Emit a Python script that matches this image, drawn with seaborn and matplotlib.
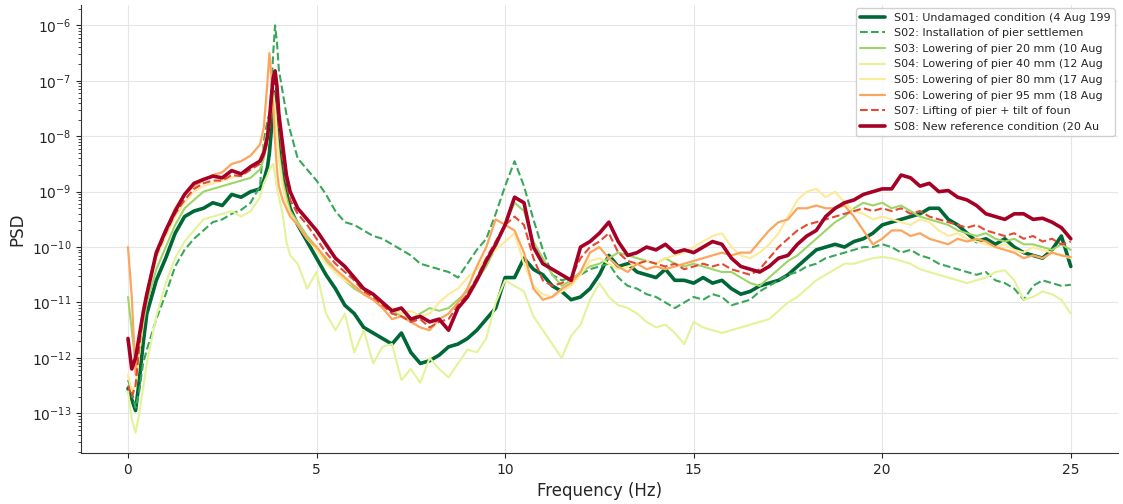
import numpy as np
import pandas as pd
import matplotlib
matplotlib.use("Agg")
import matplotlib.pyplot as plt
from matplotlib.ticker import LogLocator, NullFormatter
import seaborn as sns

# Frequency grid (Hz): dense around the first bending mode, 0.25 Hz elsewhere
freq = [0.0, 0.1, 0.2, 0.3, 0.4, 0.5, 0.75, 1.0, 1.25, 1.5, 1.75, 2.0, 2.25, 2.5, 2.75,
        3.0, 3.25, 3.5, 3.6, 3.7, 3.75, 3.8, 3.85, 3.9, 3.95, 4.0, 4.1, 4.2, 4.3, 4.5,
        4.75, 5.0, 5.25, 5.5, 5.75, 6.0, 6.25, 6.5, 6.75, 7.0, 7.25, 7.5, 7.75, 8.0,
        8.25, 8.5, 8.75, 9.0, 9.25, 9.5, 9.75, 10.0,
        10.25, 10.5, 10.75, 11.0, 11.25, 11.5, 11.75, 12.0, 12.25, 12.5, 12.75, 13.0,
        13.25, 13.5, 13.75, 14.0, 14.25, 14.5, 14.75, 15.0,
        15.25, 15.5, 15.75, 16.0, 16.25, 16.5, 16.75, 17.0, 17.25, 17.5, 17.75, 18.0,
        18.25, 18.5, 18.75, 19.0, 19.25, 19.5, 19.75, 20.0,
        20.25, 20.5, 20.75, 21.0, 21.25, 21.5, 21.75, 22.0, 22.25, 22.5, 22.75, 23.0,
        23.25, 23.5, 23.75, 24.0, 24.25, 24.5, 24.75, 25.0]

# log10 of the power spectral density for each setup
s01 = [-12.55, -12.75, -12.95, -12.4, -11.75, -11.2, -10.6, -10.2, -9.75, -9.45, -9.35, -9.3, -9.2, -9.25, -9.05,
       -9.1, -9.0, -8.95, -8.8, -8.55, -8.3, -7.9, -7.4, -7.2, -7.6, -8.1, -8.6, -9.0, -9.3, -9.6,
       -9.9, -10.2, -10.5, -10.75, -11.05, -11.2, -11.45, -11.55, -11.65, -11.75, -11.55, -11.9, -12.1, -12.05,
       -11.95, -11.8, -11.75, -11.65, -11.5, -11.3, -11.1, -10.55,
       -10.55, -10.2, -10.4, -10.5, -10.7, -10.8, -10.95, -10.9, -10.75, -10.5, -10.15, -10.35,
       -10.3, -10.45, -10.5, -10.55, -10.4, -10.6, -10.6, -10.65,
       -10.55, -10.65, -10.6, -10.75, -10.85, -10.8, -10.7, -10.65, -10.6, -10.5, -10.35, -10.2,
       -10.05, -10.0, -9.95, -10.0, -9.9, -9.85, -9.75, -9.6,
       -9.55, -9.5, -9.45, -9.4, -9.3, -9.3, -9.5, -9.6, -9.75, -9.9, -9.85, -9.95,
       -9.85, -10.0, -10.1, -10.15, -10.2, -10.05, -9.8, -10.35]

s02 = [-12.4, -12.6, -12.9, -12.6, -12.1, -11.85, -11.3, -10.85, -10.35, -10.05, -9.85, -9.7, -9.55, -9.5, -9.4,
       -9.33, -9.2, -8.9, -8.1, -7.7, -7.6, -7.2, -6.5, -6.0, -6.3, -6.8, -7.2, -7.6, -7.9, -8.4,
       -8.6, -8.8, -9.05, -9.35, -9.55, -9.6, -9.7, -9.8, -9.85, -9.95, -10.05, -10.15, -10.3, -10.35,
       -10.4, -10.45, -10.55, -10.3, -10.05, -9.85, -9.4, -8.9,
       -8.45, -8.9, -9.5, -10.05, -10.5, -10.6, -10.55, -10.5, -10.4, -10.35, -10.3, -10.55,
       -10.7, -10.75, -10.85, -10.9, -11.0, -11.1, -11.0, -10.9,
       -10.95, -10.85, -10.9, -11.05, -11.0, -10.95, -10.8, -10.7, -10.6, -10.5, -10.45, -10.35,
       -10.3, -10.2, -10.15, -10.1, -10.05, -10.0, -10.0, -9.95,
       -10.0, -10.1, -10.05, -10.15, -10.2, -10.3, -10.35, -10.4, -10.45, -10.5, -10.45, -10.6,
       -10.65, -10.75, -10.95, -10.7, -10.6, -10.65, -10.7, -10.68]

s03 = [-10.9, -11.5, -12.1, -11.9, -11.4, -11.0, -10.4, -10.0, -9.6, -9.3, -9.15, -9.0, -8.95, -8.9, -8.85,
       -8.8, -8.75, -8.6, -8.4, -8.1, -7.8, -7.5, -7.3, -7.5, -7.9, -8.3, -8.8, -9.1, -9.35, -9.55,
       -9.8, -10.0, -10.25, -10.45, -10.6, -10.75, -10.85, -10.95, -11.05, -11.15, -11.25, -11.3, -11.2, -11.1,
       -11.15, -11.1, -10.95, -10.8, -10.6, -10.35, -10.0, -9.6,
       -9.2, -9.35, -9.9, -10.2, -10.5, -10.7, -10.6, -10.45, -10.35, -10.3, -10.2, -10.1,
       -10.15, -10.2, -10.25, -10.3, -10.2, -10.3, -10.35, -10.3,
       -10.35, -10.4, -10.45, -10.45, -10.55, -10.65, -10.7, -10.55, -10.4, -10.25, -10.15, -10.0,
       -9.85, -9.7, -9.55, -9.45, -9.3, -9.2, -9.25, -9.2,
       -9.3, -9.25, -9.35, -9.45, -9.5, -9.55, -9.6, -9.7, -9.75, -9.8, -9.75, -9.85,
       -9.9, -9.85, -9.95, -9.95, -10.0, -10.05, -9.95, -10.05]

s04 = [-12.6, -13.1, -13.35, -13.0, -12.55, -12.1, -11.25, -10.65, -10.2, -9.9, -9.7, -9.5, -9.45, -9.4, -9.35,
       -9.45, -9.35, -9.1, -8.85, -8.7, -8.6, -8.55, -8.5, -8.7, -8.95, -9.1, -9.4, -9.9, -10.15, -10.3,
       -10.75, -10.45, -11.2, -11.5, -11.2, -11.9, -11.5, -12.1, -11.8, -11.75, -12.4, -12.2, -12.45, -12.0,
       -12.2, -12.35, -12.1, -11.85, -11.9, -11.65, -11.0, -10.6,
       -10.7, -10.8, -11.25, -11.5, -11.75, -12.0, -11.6, -11.4, -10.95, -10.65, -10.9, -11.05,
       -11.1, -11.2, -11.35, -11.45, -11.4, -11.55, -11.75, -11.35,
       -11.45, -11.5, -11.55, -11.5, -11.45, -11.4, -11.35, -11.3, -11.15, -11.0, -10.9, -10.75,
       -10.6, -10.5, -10.4, -10.3, -10.3, -10.25, -10.2, -10.18,
       -10.2, -10.25, -10.3, -10.4, -10.45, -10.5, -10.55, -10.6, -10.65, -10.6, -10.55, -10.45,
       -10.42, -10.6, -10.95, -10.9, -10.8, -10.85, -10.95, -11.2]

s05 = [-12.3, -12.6, -12.5, -11.9, -11.3, -10.9, -10.2, -9.8, -9.45, -9.2, -9.0, -8.9, -8.85, -8.8, -8.75,
       -8.7, -8.6, -8.4, -8.2, -7.9, -7.6, -7.3, -7.2, -7.5, -8.0, -8.4, -8.9, -9.2, -9.4, -9.6,
       -9.85, -10.05, -10.3, -10.45, -10.6, -10.7, -10.85, -10.95, -11.05, -11.1, -11.2, -11.15, -11.25, -11.2,
       -11.0, -10.85, -10.75, -10.55, -10.4, -10.2, -10.05, -9.9,
       -9.75, -10.3, -10.7, -10.85, -10.9, -10.8, -10.7, -10.5, -10.25, -10.2, -10.3, -10.4,
       -10.35, -10.3, -10.25, -10.3, -10.2, -10.15, -10.1, -10.0,
       -9.9, -9.8, -9.75, -10.0, -10.15, -10.2, -10.1, -9.95, -9.75, -9.45, -9.15, -9.0,
       -8.95, -9.1, -9.0, -9.2, -9.35, -9.4, -9.5, -9.45,
       -9.5, -9.55, -9.6, -9.5, -9.55, -9.7, -9.8, -9.75, -9.85, -9.9, -9.95, -10.0,
       -9.95, -10.05, -10.1, -10.0, -10.05, -10.1, -10.15, -10.2]

s06 = [-10.0, -10.9, -12.3, -11.6, -11.1, -10.8, -10.1, -9.7, -9.3, -9.05, -8.9, -8.8, -8.7, -8.65, -8.5,
       -8.45, -8.35, -8.15, -7.85, -7.0, -6.5, -6.9, -7.5, -8.1, -8.6, -8.9, -9.15, -9.3, -9.45, -9.6,
       -9.85, -10.0, -10.2, -10.4, -10.55, -10.7, -10.85, -10.95, -11.1, -11.3, -11.25, -11.35, -11.45, -11.5,
       -11.3, -11.2, -11.0, -10.75, -10.35, -10.0, -9.5, -9.6,
       -9.7, -10.1, -10.75, -10.95, -10.9, -10.75, -10.65, -10.45, -10.1, -10.0, -10.2, -10.35,
       -10.45, -10.3, -10.4, -10.35, -10.4, -10.35, -10.3, -10.25,
       -10.2, -10.15, -10.1, -10.15, -10.1, -10.1, -9.9, -9.7, -9.55, -9.5, -9.3, -9.3,
       -9.25, -9.3, -9.3, -9.25, -9.45, -9.7, -9.95, -9.85,
       -9.7, -9.7, -9.8, -9.75, -9.85, -9.9, -9.95, -9.85, -9.9, -9.85, -9.9, -10.0,
       -10.05, -10.1, -10.2, -10.15, -10.2, -10.1, -10.15, -10.18]

s07 = [-12.5, -12.7, -12.5, -11.8, -11.2, -10.85, -10.15, -9.75, -9.4, -9.15, -8.95, -8.85, -8.8, -8.8, -8.7,
       -8.72, -8.6, -8.5, -8.35, -8.1, -7.8, -7.4, -7.1, -7.0, -7.3, -7.8, -8.4, -8.85, -9.15, -9.4,
       -9.6, -9.85, -10.1, -10.3, -10.45, -10.6, -10.8, -10.9, -11.05, -11.2, -11.25, -11.35, -11.3, -11.45,
       -11.35, -11.3, -11.05, -10.85, -10.55, -10.2, -9.9, -9.6,
       -9.45, -9.6, -10.2, -10.6, -10.7, -10.65, -10.55, -10.2, -10.0, -9.9, -9.75, -10.1,
       -10.25, -10.3, -10.25, -10.3, -10.35, -10.3, -10.4, -10.35,
       -10.3, -10.35, -10.3, -10.4, -10.45, -10.5, -10.4, -10.2, -10.0, -9.85, -9.7, -9.6,
       -9.55, -9.5, -9.45, -9.4, -9.35, -9.3, -9.35, -9.3,
       -9.35, -9.3, -9.4, -9.35, -9.45, -9.5, -9.55, -9.6, -9.65, -9.6, -9.7, -9.75,
       -9.8, -9.75, -9.85, -9.8, -9.9, -9.85, -9.95, -9.9]

s08 = [-11.65, -12.2, -12.0, -11.6, -11.2, -10.85, -10.1, -9.7, -9.35, -9.05, -8.85, -8.78, -8.72, -8.75, -8.62,
       -8.68, -8.55, -8.45, -8.3, -8.0, -7.7, -7.3, -6.95, -6.82, -7.1, -7.6, -8.15, -8.7, -9.0, -9.3,
       -9.5, -9.7, -9.95, -10.2, -10.35, -10.55, -10.75, -10.85, -11.0, -11.15, -11.1, -11.3, -11.25, -11.35,
       -11.3, -11.5, -11.1, -10.9, -10.6, -10.25, -9.95, -9.6,
       -9.1, -9.2, -10.0, -10.3, -10.4, -10.5, -10.6, -10.0, -9.9, -9.75, -9.55, -9.9,
       -10.15, -10.1, -10.0, -10.05, -9.95, -10.1, -10.05, -10.1,
       -10.0, -9.9, -9.95, -10.2, -10.35, -10.4, -10.45, -10.35, -10.2, -10.15, -9.95, -9.8,
       -9.7, -9.45, -9.3, -9.2, -9.15, -9.05, -9.0, -8.95,
       -8.95, -8.7, -8.75, -8.9, -8.85, -9.0, -8.98, -9.1, -9.15, -9.25, -9.4, -9.45,
       -9.5, -9.4, -9.4, -9.5, -9.48, -9.55, -9.65, -9.85]

labels = [
    "S01: Undamaged condition (4 Aug 199",
    "S02: Installation of pier settlemen",
    "S03: Lowering of pier 20 mm (10 Aug",
    "S04: Lowering of pier 40 mm (12 Aug",
    "S05: Lowering of pier 80 mm (17 Aug",
    "S06: Lowering of pier 95 mm (18 Aug",
    "S07: Lifting of pier + tilt of foun",
    "S08: New reference condition (20 Au",
]
series = [s01, s02, s03, s04, s05, s06, s07, s08]

sns.set_style("ticks", {"axes.grid": True, "grid.color": "#e6e6e6",
                        "axes.edgecolor": "#333333"})
plt.rcParams["font.family"] = ["DejaVu Sans"]

colors = plt.cm.RdYlGn_r(np.linspace(0, 1, len(series)))
styles = ["-", "--", "-", "-", "-", "-", "--", "-"]
widths = [2.6, 1.5, 1.5, 1.5, 1.5, 1.6, 1.5, 2.6]

fig = plt.figure(figsize=(11.23, 5.04), dpi=100)
ax = fig.add_axes([0.072, 0.101, 0.9235, 0.889])

for lab, vals, c, ls, lw in zip(labels, series, colors, styles, widths):
    df = pd.DataFrame({"Frequency (Hz)": freq, "PSD": np.power(10.0, vals)})
    sns.lineplot(data=df, x="Frequency (Hz)", y="PSD", ax=ax, color=c,
                 linestyle=ls, linewidth=lw, label=lab)

ax.set_yscale("log")
ax.yaxis.set_major_locator(LogLocator(base=10, numticks=20))
ax.yaxis.set_minor_locator(LogLocator(base=10, subs=np.arange(2, 10), numticks=200))
ax.yaxis.set_minor_formatter(NullFormatter())
ax.set_xticks([0, 5, 10, 15, 20, 25])
ax.set_xlabel("Frequency (Hz)", fontsize=12)
ax.set_ylabel("PSD", fontsize=12)
ax.tick_params(axis="both", labelsize=10, direction="out")
ax.tick_params(axis="y", which="minor", length=2.5, width=0.6, left=True)
ax.grid(True, which="major", color="#e6e6e6", linewidth=0.8)
ax.grid(False, which="minor")
sns.despine(ax=ax)

ax.legend(loc="upper right", fontsize=8, frameon=True, framealpha=0.9,
          borderaxespad=0.3, handlelength=2.2)

fig.savefig("out.png", dpi=100)
